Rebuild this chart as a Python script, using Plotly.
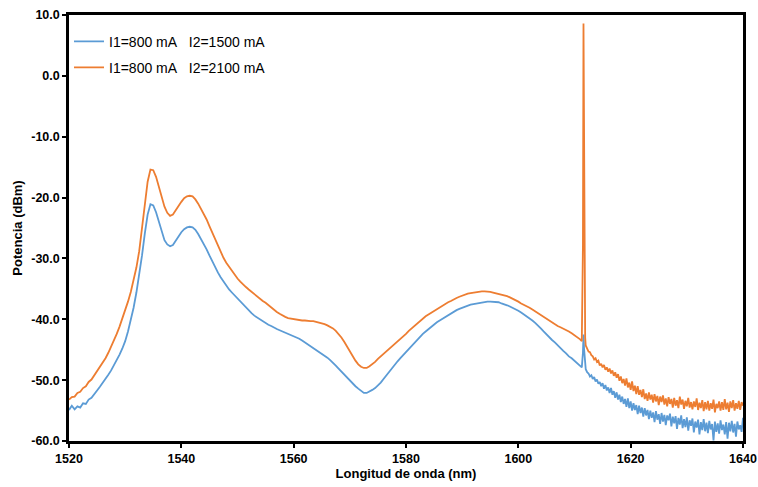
import plotly.graph_objects as go

# ---------------- data ----------------
wavelength_main = [
    1520.0,1520.5,1521.0,1521.5,1522.0,1522.5,1523.0,1523.5,1524.0,1524.5,
    1525.0,1525.5,1526.0,1526.5,1527.0,1527.5,1528.0,1528.5,1529.0,1529.5,
    1530.0,1530.5,1531.0,1531.5,1532.0,1532.5,1533.0,1533.5,1534.0,1534.5,
    1535.0,1535.5,1536.0,1536.5,1537.0,1537.5,1538.0,1538.5,1539.0,1539.5,
    1540.0,1540.5,1541.0,1541.5,1542.0,1542.5,1543.0,1543.5,1544.0,1544.5,
    1545.0,1545.5,1546.0,1546.5,1547.0,1547.5,1548.0,1548.5,1549.0,1549.5,
    1550.0,1550.5,1551.0,1551.5,1552.0,1552.5,1553.0,1553.5,1554.0,1554.5,
    1555.0,1555.5,1556.0,1556.5,1557.0,1557.5,1558.0,1558.5,1559.0,1559.5,
    1560.0,1560.5,1561.0,1561.5,1562.0,1562.5,1563.0,1563.5,1564.0,1564.5,
    1565.0,1565.5,1566.0,1566.5,1567.0,1567.5,1568.0,1568.5,1569.0,1569.5,
    1570.0,1570.5,1571.0,1571.5,1572.0,1572.5,1573.0,1573.5,1574.0,1574.5,
    1575.0,1575.5,1576.0,1576.5,1577.0,1577.5,1578.0,1578.5,1579.0,1579.5,
    1580.0,1580.5,1581.0,1581.5,1582.0,1582.5,1583.0,1583.5,1584.0,1584.5,
    1585.0,1585.5,1586.0,1586.5,1587.0,1587.5,1588.0,1588.5,1589.0,1589.5,
    1590.0,1590.5,1591.0,1591.5,1592.0,1592.5,1593.0,1593.5,1594.0,1594.5,
    1595.0,1595.5,1596.0,1596.5,1597.0,1597.5,1598.0,1598.5,1599.0,1599.5,
    1600.0,1600.5,1601.0,1601.5,1602.0,1602.5,1603.0,1603.5,1604.0,1604.5,
    1605.0,1605.5,1606.0,1606.5,1607.0,1607.5,1608.0,1608.5,1609.0,1609.5,
    1610.0,1610.5,1611.0,
]
wavelength_spike = [1611.3, 1611.5, 1611.6, 1611.7, 1611.9]
wavelength_tail = [
    1612.00,1612.25,1612.50,1612.75,1613.00,1613.25,1613.50,1613.75,
    1614.00,1614.25,1614.50,1614.75,1615.00,1615.25,1615.50,1615.75,
    1616.00,1616.25,1616.50,1616.75,1617.00,1617.25,1617.50,1617.75,
    1618.00,1618.25,1618.50,1618.75,1619.00,1619.25,1619.50,1619.75,
    1620.00,1620.25,1620.50,1620.75,1621.00,1621.25,1621.50,1621.75,
    1622.00,1622.25,1622.50,1622.75,1623.00,1623.25,1623.50,1623.75,
    1624.00,1624.25,1624.50,1624.75,1625.00,1625.25,1625.50,1625.75,
    1626.00,1626.25,1626.50,1626.75,1627.00,1627.25,1627.50,1627.75,
    1628.00,1628.25,1628.50,1628.75,1629.00,1629.25,1629.50,1629.75,
    1630.00,1630.25,1630.50,1630.75,1631.00,1631.25,1631.50,1631.75,
    1632.00,1632.25,1632.50,1632.75,1633.00,1633.25,1633.50,1633.75,
    1634.00,1634.25,1634.50,1634.75,1635.00,1635.25,1635.50,1635.75,
    1636.00,1636.25,1636.50,1636.75,1637.00,1637.25,1637.50,1637.75,
    1638.00,1638.25,1638.50,1638.75,1639.00,1639.25,1639.50,1639.75,
    1640.00,
]

# I1=800 mA, I2=2100 mA (orange)
power_2100_main = [
    -53.2,-52.8,-52.7,-52.1,-51.9,-51.3,-51.0,-50.3,-49.9,-49.2,
    -48.6,-47.9,-47.2,-46.4,-45.5,-44.5,-43.5,-42.4,-41.2,-39.9,
    -38.6,-37.1,-35.5,-33.7,-31.5,-28.8,-25.3,-21.0,-17.4,-15.4,
    -15.5,-16.6,-18.3,-20.0,-21.5,-22.5,-23.0,-22.8,-22.2,-21.4,
    -20.7,-20.1,-19.8,-19.7,-19.8,-20.3,-21.0,-21.8,-22.6,-23.6,
    -24.7,-25.8,-26.9,-28.0,-29.0,-29.9,-30.7,-31.4,-32.1,-32.7,
    -33.3,-33.8,-34.3,-34.7,-35.1,-35.5,-35.9,-36.2,-36.6,-37.0,
    -37.3,-37.7,-38.1,-38.4,-38.8,-39.1,-39.4,-39.6,-39.8,-39.9,
    -40.0,-40.1,-40.1,-40.2,-40.2,-40.3,-40.3,-40.3,-40.4,-40.5,
    -40.6,-40.8,-41.0,-41.2,-41.5,-41.9,-42.4,-43.0,-43.7,-44.5,
    -45.3,-46.1,-46.8,-47.4,-47.8,-48.0,-48.0,-47.7,-47.4,-47.0,
    -46.5,-46.1,-45.6,-45.2,-44.8,-44.4,-44.0,-43.6,-43.3,-42.8,
    -42.4,-41.9,-41.5,-41.0,-40.6,-40.2,-39.9,-39.5,-39.2,-38.9,
    -38.6,-38.3,-38.0,-37.7,-37.5,-37.2,-37.0,-36.7,-36.5,-36.3,
    -36.1,-35.9,-35.8,-35.7,-35.6,-35.5,-35.5,-35.4,-35.4,-35.4,
    -35.5,-35.6,-35.7,-35.8,-35.9,-36.0,-36.2,-36.4,-36.6,-36.9,
    -37.1,-37.4,-37.6,-37.9,-38.1,-38.4,-38.7,-39.1,-39.4,-39.7,
    -40.0,-40.3,-40.6,-40.9,-41.1,-41.3,-41.5,-41.7,-42.0,-42.3,
    -42.6,-42.9,-43.3,
]
power_2100_spike = [-43.6, -28.0, 8.6, -22.0, -43.0]
power_2100_tail = [
    -44.3,-44.9,-45.3,-45.4,-45.9,-46.1,-46.6,-46.4,
    -47.0,-46.8,-47.6,-47.3,-47.9,-47.5,-48.3,-47.9,
    -48.6,-48.1,-48.9,-48.4,-49.3,-48.7,-49.6,-49.0,
    -50.1,-49.4,-50.5,-49.8,-50.9,-49.7,-51.2,-50.4,
    -51.6,-50.2,-51.8,-50.9,-52.3,-51.0,-52.4,-51.6,
    -52.8,-51.5,-53.1,-52.2,-53.4,-52.0,-53.2,-52.4,
    -53.7,-52.3,-53.5,-52.6,-54.1,-52.7,-53.6,-52.5,
    -54.0,-53.0,-54.3,-52.8,-53.9,-53.1,-54.5,-52.9,
    -54.2,-53.3,-54.6,-52.7,-54.0,-53.2,-54.7,-53.4,
    -54.3,-52.9,-54.5,-53.6,-54.8,-53.5,-54.4,-53.0,
    -54.9,-53.7,-54.6,-53.3,-55.1,-53.6,-54.8,-53.4,
    -55.0,-53.8,-54.7,-53.2,-55.3,-53.9,-54.6,-53.5,
    -55.0,-53.6,-54.9,-53.1,-54.8,-53.7,-55.2,-53.5,
    -54.6,-53.3,-55.0,-53.8,-54.7,-53.4,-54.9,-53.6,
    -54.2,
]

# I1=800 mA, I2=1500 mA (blue)
power_1500_main = [
    -54.9,-54.2,-54.8,-54.3,-54.5,-53.8,-53.9,-53.2,-52.9,-52.2,
    -51.7,-51.1,-50.5,-49.8,-49.1,-48.4,-47.6,-46.7,-45.8,-44.8,
    -43.6,-42.0,-40.2,-38.1,-35.6,-32.8,-29.5,-25.9,-22.8,-21.1,
    -21.3,-22.4,-24.0,-25.7,-27.0,-27.7,-28.0,-27.8,-27.2,-26.4,
    -25.7,-25.2,-24.9,-24.8,-24.9,-25.3,-26.0,-26.8,-27.5,-28.5,
    -29.5,-30.5,-31.4,-32.3,-33.1,-33.8,-34.5,-35.1,-35.6,-36.1,
    -36.6,-37.1,-37.6,-38.1,-38.6,-39.0,-39.4,-39.7,-40.1,-40.3,
    -40.6,-40.9,-41.1,-41.4,-41.6,-41.8,-42.0,-42.2,-42.3,-42.5,
    -42.7,-42.9,-43.2,-43.5,-43.8,-44.1,-44.4,-44.7,-45.0,-45.3,
    -45.6,-45.9,-46.3,-46.7,-47.1,-47.6,-48.1,-48.6,-49.1,-49.6,
    -50.1,-50.6,-51.0,-51.4,-51.8,-52.1,-52.1,-51.9,-51.6,-51.3,
    -50.9,-50.4,-49.8,-49.2,-48.6,-48.0,-47.4,-46.9,-46.4,-45.9,
    -45.4,-44.9,-44.4,-43.8,-43.3,-42.8,-42.4,-42.0,-41.6,-41.2,
    -40.8,-40.5,-40.2,-39.9,-39.6,-39.3,-39.0,-38.7,-38.5,-38.3,
    -38.1,-37.9,-37.8,-37.6,-37.5,-37.4,-37.3,-37.2,-37.2,-37.1,
    -37.1,-37.1,-37.2,-37.2,-37.4,-37.5,-37.7,-37.9,-38.1,-38.3,
    -38.6,-38.9,-39.2,-39.5,-39.8,-40.2,-40.6,-41.0,-41.5,-42.0,
    -42.5,-42.9,-43.4,-43.8,-44.3,-44.7,-45.2,-45.6,-46.1,-46.4,
    -46.8,-47.2,-47.6,
]
power_1500_spike = [-47.9, -45.5, -42.5, -44.8, -47.0]
power_1500_tail = [
    -48.2,-48.7,-48.9,-49.4,-49.2,-49.8,-49.5,-50.2,
    -49.9,-50.6,-50.3,-51.0,-50.5,-51.4,-50.8,-51.7,
    -51.2,-52.1,-51.3,-52.4,-51.8,-52.9,-52.0,-53.2,
    -52.4,-53.6,-52.7,-53.9,-53.1,-54.4,-53.0,-54.6,
    -53.5,-55.0,-53.8,-54.9,-54.1,-55.6,-54.2,-55.4,
    -54.5,-56.0,-54.6,-55.8,-54.9,-56.4,-55.0,-56.2,
    -55.3,-56.9,-55.1,-56.5,-55.6,-57.2,-55.4,-56.8,
    -55.7,-57.4,-55.8,-56.6,-55.5,-57.6,-56.0,-57.1,
    -55.9,-58.0,-56.2,-57.3,-55.8,-57.9,-56.4,-57.7,
    -56.1,-58.3,-56.6,-57.5,-56.3,-58.6,-56.8,-57.8,
    -56.5,-58.9,-56.9,-58.2,-56.4,-58.4,-57.0,-58.7,
    -56.7,-58.1,-57.2,-59.9,-56.8,-58.5,-57.1,-58.8,
    -56.6,-58.2,-57.3,-58.9,-56.9,-59.6,-57.0,-58.4,
    -56.7,-58.6,-57.2,-59.3,-56.8,-58.1,-57.4,-58.5,
    -56.2,
]

x_ticks = [1520, 1540, 1560, 1580, 1600, 1620, 1640]
y_ticks = [10, 0, -10, -20, -30, -40, -50, -60]

NB = "\u00a0"
name_1500 = "I1=800 mA" + NB * 3 + "I2=1500 mA"
name_2100 = "I1=800 mA" + NB * 3 + "I2=2100 mA"

wavelength = wavelength_main + wavelength_spike + wavelength_tail
power_1500 = power_1500_main + power_1500_spike + power_1500_tail
power_2100 = power_2100_main + power_2100_spike + power_2100_tail

BLUE = "#5B9BD5"
ORANGE = "#ED7D31"

fig = go.Figure()
fig.add_trace(go.Scatter(x=wavelength, y=power_1500, mode="lines", name=name_1500,
                         line=dict(color=BLUE, width=1.8), legend="legend"))
fig.add_trace(go.Scatter(x=wavelength, y=power_2100, mode="lines", name=name_2100,
                         line=dict(color=ORANGE, width=1.8), legend="legend2"))

tick_font = dict(family="Liberation Sans, Arial, sans-serif", size=12.5, color="#000000", weight="bold")
title_font = dict(family="Liberation Sans, Arial, sans-serif", size=13, color="#000000", weight="bold")
legend_font = dict(family="Liberation Sans, Arial, sans-serif", size=14, color="#000000")

fig.update_layout(
    width=758, height=487,
    margin=dict(l=69, r=15, t=15, b=46),
    paper_bgcolor="white", plot_bgcolor="white",
    showlegend=True,
    legend=dict(x=0.0, y=0.937, xanchor="left", yanchor="middle", font=legend_font,
                bgcolor="rgba(0,0,0,0)", borderwidth=0),
    legend2=dict(x=0.0, y=0.876, xanchor="left", yanchor="middle", font=legend_font,
                 bgcolor="rgba(0,0,0,0)", borderwidth=0),
    xaxis=dict(
        range=[1520, 1640], tickvals=x_ticks, ticktext=[str(v) for v in x_ticks],
        ticks="outside", ticklen=4, tickwidth=2, tickcolor="black",
        ticklabelstandoff=0,
        showline=True, linewidth=2.5, linecolor="black", mirror=True,
        showgrid=False, zeroline=False, tickfont=tick_font, automargin=False,
        title=dict(text="Longitud de onda (nm)", font=title_font, standoff=5),
    ),
    yaxis=dict(
        range=[-60, 10], tickvals=y_ticks, ticktext=[f"{v:.1f}" for v in y_ticks],
        ticks="outside", ticklen=4, tickwidth=2, tickcolor="black",
        showline=True, linewidth=2.5, linecolor="black", mirror=True,
        showgrid=False, zeroline=False, tickfont=tick_font, automargin=False,
        title=dict(text="Potencia (dBm)", font=title_font, standoff=6),
    ),
)

fig.write_html("out.html")
